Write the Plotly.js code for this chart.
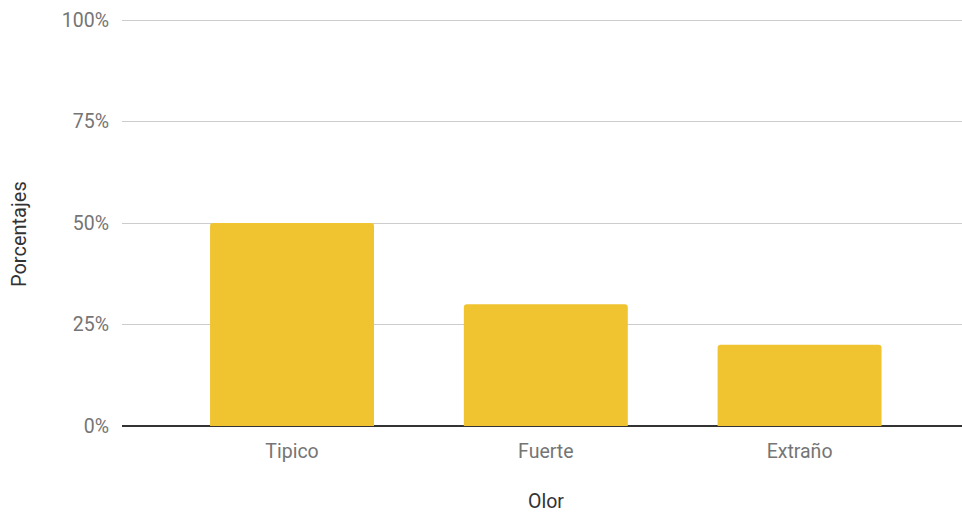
<!DOCTYPE html>
<html>
<head>
<meta charset="utf-8">
<script src="https://cdn.plot.ly/plotly-3.0.1.min.js"></script>
<style>
  html, body { margin: 0; padding: 0; background: #fff; }
  #chart { width: 962px; height: 514px; }
</style>
</head>
<body>
<div id="chart"></div>
<script>
// Odor categories and their share of responses (%)
const categories = ['Tipico', 'Fuerte', 'Extraño'];
const percentages = [50, 30, 20];
const yTickValues = [0, 25, 50, 75, 100];
const yTickLabels = ['0%', '25%', '50%', '75%', '100%'];
const xTitle = 'Olor';
const yTitle = 'Porcentajes';

const trace = {
  type: 'bar',
  x: categories,
  y: percentages,
  marker: { color: '#F0C331', cornerradius: 3 },
  hoverinfo: 'x+y'
};

const titleFont = { family: 'Roboto, sans-serif', size: 20, color: '#333333' };

const layout = {
  width: 962,
  height: 514,
  margin: { l: 122, r: 0, t: 19, b: 88 },
  paper_bgcolor: '#ffffff',
  plot_bgcolor: '#ffffff',
  font: { family: 'Roboto, sans-serif', size: 19, color: '#757575' },
  bargap: 0.354,
  showlegend: false,
  xaxis: {
    type: 'category',
    range: [-0.67, 2.64],
    showgrid: false,
    zeroline: false,
    showline: false,
    ticks: '',
    ticklabelstandoff: 11,
    tickfont: { size: 19.5, color: '#757575' }
  },
  yaxis: {
    range: [0, 100.25],
    tickvals: yTickValues,
    ticktext: yTickLabels,
    showgrid: true,
    gridcolor: '#cccccc',
    gridwidth: 1,
    zeroline: true,
    zerolinecolor: '#333333',
    zerolinewidth: 1.5,
    showline: false,
    ticks: '',
    ticklabelstandoff: 12,
    tickfont: { size: 19.5, color: '#757575' }
  },
  // Axis titles placed as annotations for precise positioning
  annotations: [
    {
      text: xTitle, xref: 'paper', yref: 'paper',
      x: 0.5048, y: 0, yshift: -75, xanchor: 'center', yanchor: 'middle',
      borderpad: 0, showarrow: false,
      font: { family: 'Roboto, sans-serif', size: 19.5, color: '#333333' }
    },
    {
      text: yTitle, xref: 'paper', yref: 'paper',
      x: -0.1226, y: 0.4717, xanchor: 'center', yanchor: 'middle',
      textangle: -90, showarrow: false, font: titleFont
    }
  ]
};

Plotly.newPlot('chart', [trace], layout, { displayModeBar: false, staticPlot: true });
</script>
</body>
</html>
